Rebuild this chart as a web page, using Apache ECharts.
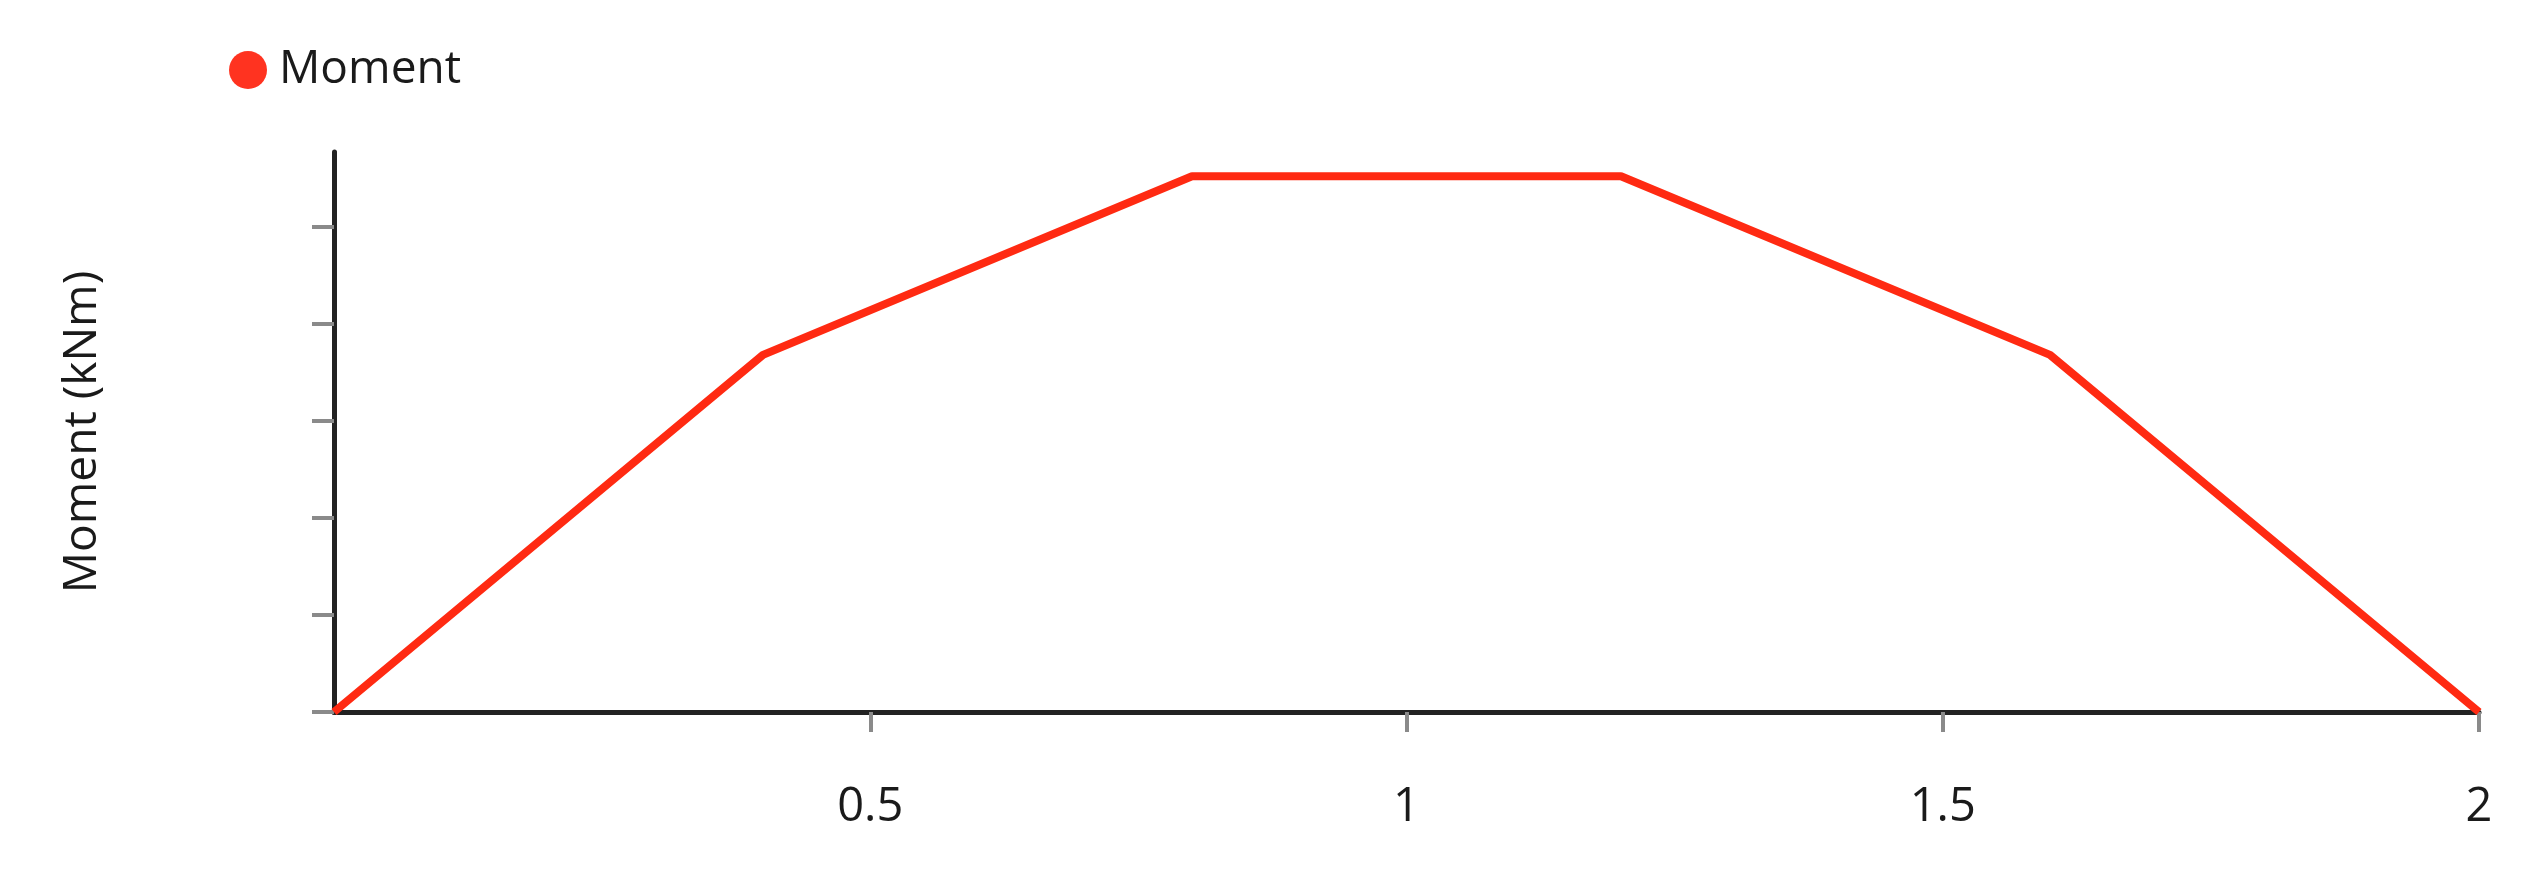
<!DOCTYPE html>
<html>
<head>
<meta charset="utf-8">
<title>Moment</title>
<script src="https://cdn.jsdelivr.net/npm/echarts@6/dist/echarts.min.js"></script>
<style>
    html, body { margin: 0; padding: 0; background: #fff; }
    #chart { width: 2530px; height: 876px; }
</style>
</head>
<body>
<div id="chart"></div>
<script>
// beam position (m) and bending moment (kNm)
var positions = [0, 0.4, 0.8, 1.2, 1.6, 2];
var moments = [0, 3.68, 5.52, 5.52, 3.68, 0];

var xTicks = [0.5, 1, 1.5, 2];
var yTicks = [0, 1, 2, 3, 4, 5];

var fontName = '"Open Sans", "Noto Sans", sans-serif';

var myChart = echarts.init(document.getElementById('chart'));

var lineData = positions.map(function (x, i) {
    return [x, moments[i]];
});

var option = {
    animation: false,
    textStyle: { fontFamily: fontName },
    legend: {
        left: 224,
        top: 42,
        icon: 'circle',
        itemWidth: 38,
        itemHeight: 38,
        textStyle: {
            fontSize: 46,
            color: '#1a1a1a',
            padding: [0, 0, 0, 7]
        },
        data: ['Moment']
    },
    grid: {
        left: 334,
        right: 51,
        top: 152,
        bottom: 164
    },
    xAxis: {
        type: 'value',
        min: 0,
        max: 2,
        interval: 0.5,
        splitLine: { show: false },
        axisLine: { lineStyle: { color: '#222', width: 5 } },
        axisTick: {
            customValues: xTicks,
            length: 20,
            lineStyle: { color: '#8a8a8a', width: 4 }
        },
        axisLabel: {
            customValues: xTicks,
            margin: 72,
            fontSize: 47,
            color: '#1a1a1a'
        }
    },
    yAxis: {
        type: 'value',
        min: 0,
        max: 5.77,
        name: 'Moment (kNm)',
        nameLocation: 'middle',
        nameGap: 228,
        nameTextStyle: { fontSize: 46, color: '#1a1a1a' },
        splitLine: { show: false },
        axisLine: { show: true, lineStyle: { color: '#222', width: 5 } },
        axisTick: {
            show: true,
            customValues: yTicks,
            length: 22,
            lineStyle: { color: '#8a8a8a', width: 4 }
        },
        axisLabel: { show: false }
    },
    series: [
        {
            name: 'Moment',
            type: 'line',
            data: lineData,
            symbol: 'none',
            itemStyle: { color: '#ff3320' },
            lineStyle: { color: '#ff2a12', width: 8 }
        }
    ]
};

myChart.setOption(option);
</script>
</body>
</html>
